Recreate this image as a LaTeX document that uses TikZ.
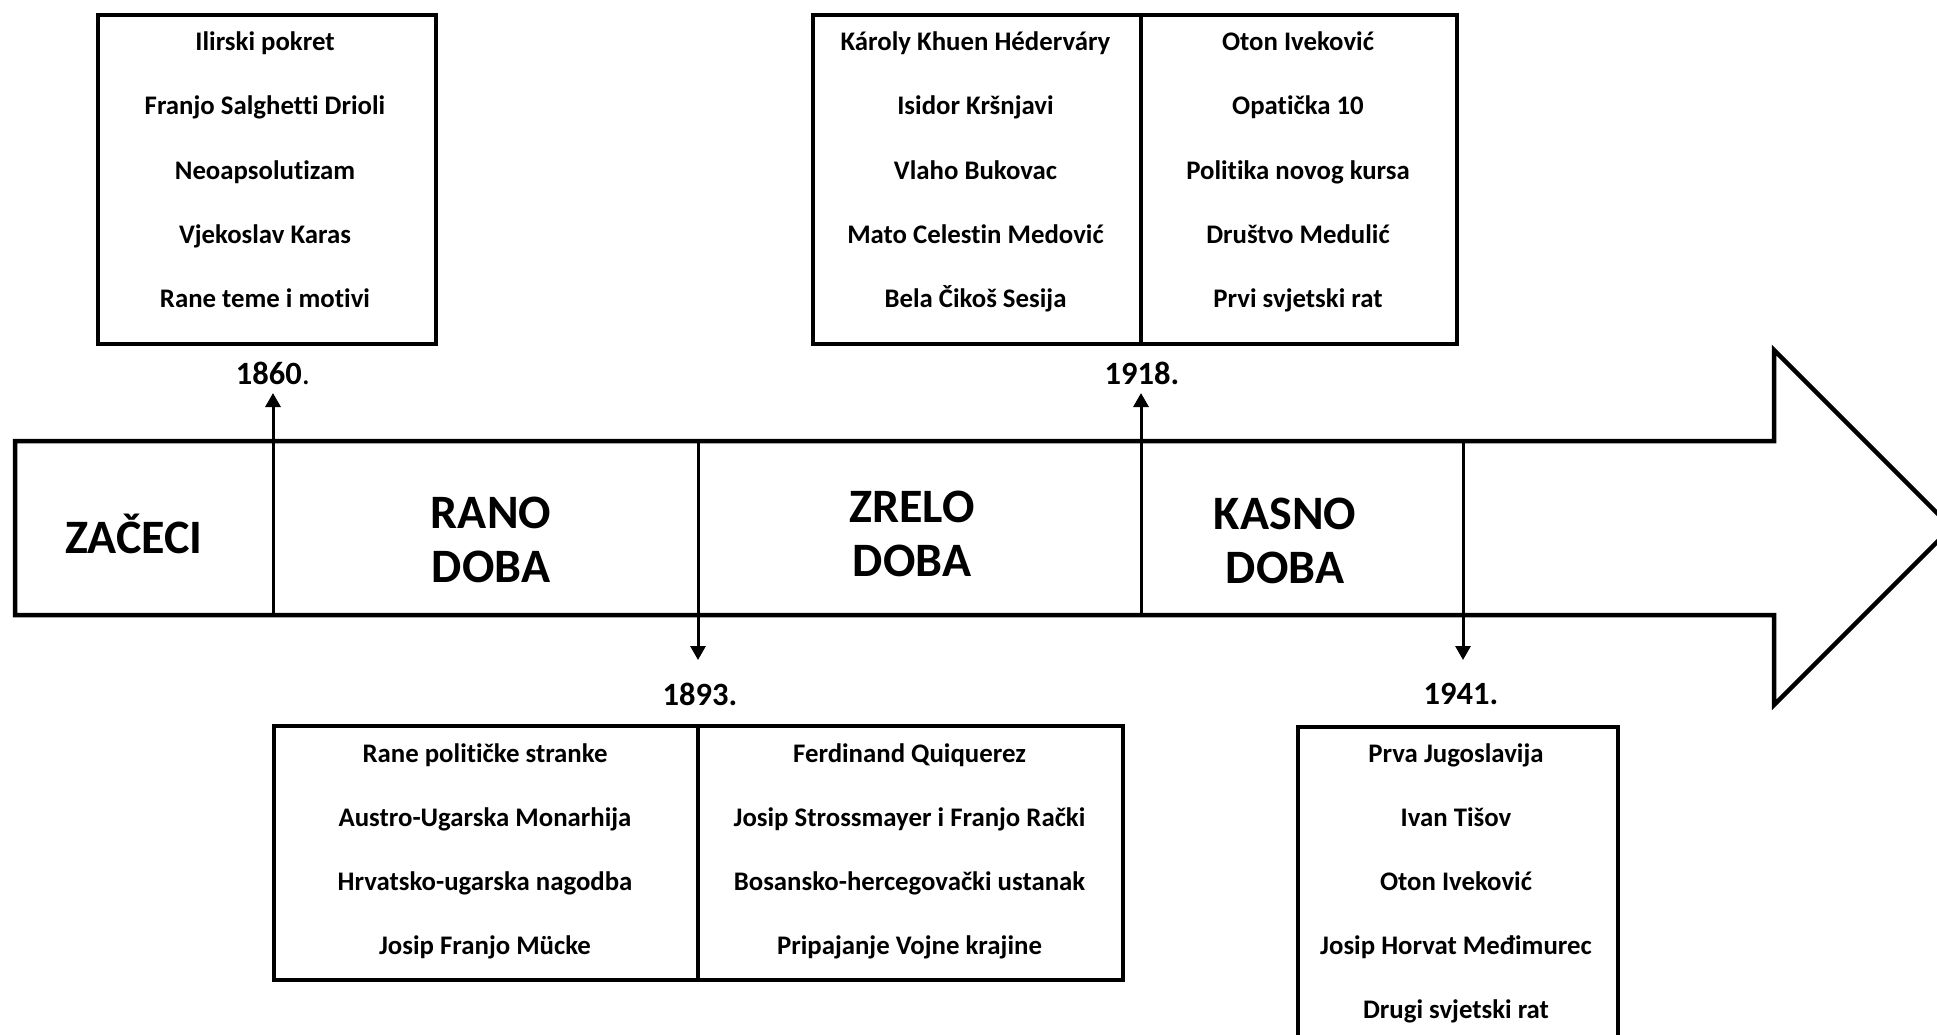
\documentclass[tikz,border=0pt]{standalone}
\usepackage{fontspec}
\setmainfont[Ligatures={NoCommon}]{Carlito}
\usetikzlibrary{arrows.meta}
\begin{document}
\begin{tikzpicture}[x=1pt,y=-1pt,
  framebox/.style={draw=black, line width=4pt, inner sep=0pt, anchor=north west},
  boxtxt/.style={anchor=base, inner sep=0pt, font=\fontsize{26.8}{32}\selectfont\bfseries},
  yeartxt/.style={anchor=base, inner sep=0pt, font=\fontsize{32.5}{39}\selectfont\bfseries},
  eratxt/.style={align=center, inner sep=0pt, font=\fontsize{48}{54}\selectfont\bfseries},
  conn/.style={line width=3pt, -{Triangle[width=15pt,length=14pt]}},
  divline/.style={line width=3.5pt},
]
\useasboundingbox (0,0) rectangle (1937,1035);
\clip (0,0) rectangle (1937,1035);

% main timeline arrow
\draw[line width=4.5pt, miter limit=10]
  (15,441) -- (1774,441) -- (1774,350) -- (1951.5,527.5) -- (1774,705) -- (1774,615) -- (15,615) -- cycle;

% era labels
\node[eratxt, anchor=base] (zaceci) at (134,553) {ZAČECI};
\node[eratxt] (rano) at (491,540) {RANO\\DOBA};
\node[eratxt] (zrelo) at (912,534) {ZRELO\\DOBA};
\node[eratxt] (kasno) at (1285,540.5) {KASNO\\DOBA};

% year labels
\node[yeartxt] (y1860) at (273,384) {1860{\mdseries .}};
\node[yeartxt] (y1893) at (700,705) {1893.};
\node[yeartxt] (y1918) at (1142,384) {1918.};
\node[yeartxt] (y1941) at (1461,704) {1941.};

% divider coordinates and arrow ends
\coordinate (d1) at (273,615);   \coordinate (e1) at (273,393);
\coordinate (d2) at (698,441);   \coordinate (e2) at (698,660);
\coordinate (d3) at (1141,615);  \coordinate (e3) at (1141,393);
\coordinate (d4) at (1463,441);  \coordinate (e4) at (1463,660);
\draw[conn] (d1) -- (e1);
\draw[conn] (d2) -- (e2);
\draw[conn] (d3) -- (e3);
\draw[conn] (d4) -- (e4);

% boxes
\node[framebox, minimum width=338pt, minimum height=329pt] (b1860) at (96,13) {};
\node[framebox, minimum width=644pt, minimum height=329pt] (b1918) at (811,13) {};
\node[framebox, minimum width=849pt, minimum height=254pt] (b1893) at (272,724) {};
\node[framebox, minimum width=320pt, minimum height=340pt] (b1941) at (1296,725) {};
\draw[divline] (b1918.north -| e3) -- (b1918.south -| e3);
\draw[divline] (b1893.north -| e2) -- (b1893.south -| e2);

% box texts
\foreach \t [count=\i] in {Ilirski pokret, Franjo Salghetti Drioli, Neoapsolutizam, Vjekoslav Karas, Rane teme i motivi}
  \node[boxtxt] (a\i) at (265,{51+64*(\i-1)}) {\t};
\foreach \t [count=\i] in {Károly Khuen Héderváry, Isidor Kršnjavi, Vlaho Bukovac, Mato Celestin Medović, Bela Čikoš Sesija}
  \node[boxtxt] (c\i) at (975.5,{51+64*(\i-1)}) {\t};
\foreach \t [count=\i] in {Oton Iveković, Opatička 10, Politika novog kursa, Društvo Medulić, Prvi svjetski rat}
  \node[boxtxt] (d\i) at (1298,{51+64*(\i-1)}) {\t};
\foreach \t [count=\i] in {Rane političke stranke, Austro-Ugarska Monarhija, Hrvatsko-ugarska nagodba, Josip Franjo Mücke}
  \node[boxtxt] (f\i) at (485,{762+64*(\i-1)}) {\t};
\foreach \t [count=\i] in {Ferdinand Quiquerez, Josip Strossmayer i Franjo Rački, Bosansko-hercegovački ustanak, Pripajanje Vojne krajine}
  \node[boxtxt] (g\i) at (909.5,{762+64*(\i-1)}) {\t};
\foreach \t [count=\i] in {Prva Jugoslavija, Ivan Tišov, Oton Iveković, Josip Horvat Međimurec, Drugi svjetski rat}
  \node[boxtxt] (h\i) at (1456,{762+64*(\i-1)}) {\t};
\end{tikzpicture}
\end{document}
